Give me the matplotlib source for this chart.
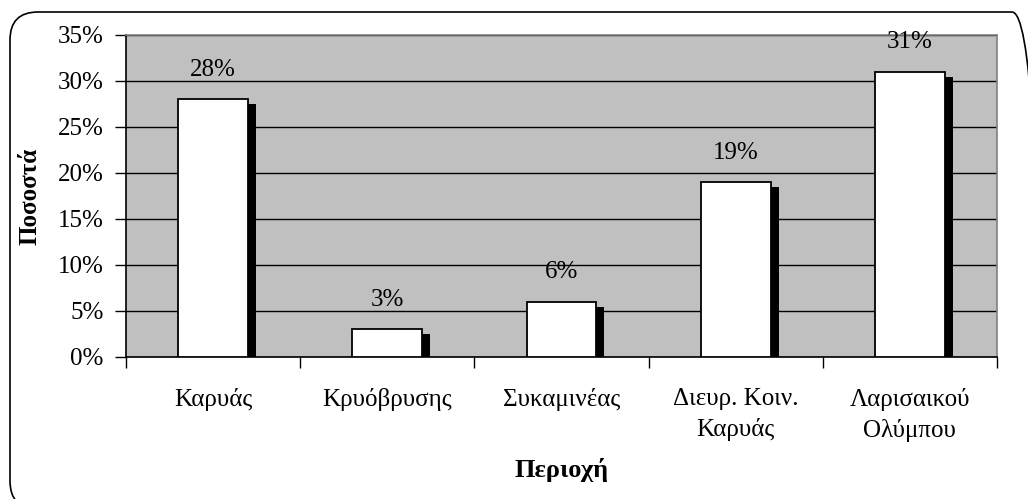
import matplotlib
matplotlib.use("Agg")
import matplotlib.pyplot as plt
from matplotlib.patches import FancyBboxPatch
from matplotlib.transforms import IdentityTransform
from matplotlib.ticker import FuncFormatter, FixedLocator
import numpy as np

# ----------------------------------------------------------------------
# Data
# ----------------------------------------------------------------------

categories = ["Καρυάς", "Κρυόβρυσης", "Συκαμινέας",
              "Διευρ. Κοιν.\nΚαρυάς", "Λαρισαικού\nΟλύμπου"]
values = [28, 3, 6, 19, 31]
yticks = [0, 5, 10, 15, 20, 25, 30, 35]

xlabel = "Περιοχή"
ylabel = "Ποσοστά"

# ----------------------------------------------------------------------
# Plot
# ----------------------------------------------------------------------

plt.rcParams['font.family'] = ['Liberation Serif', 'DejaVu Serif']
fs = 18

fig = plt.figure(figsize=(10.28, 4.99), dpi=100)
ax = fig.add_axes([0.1226, 0.2846, 0.8472, 0.6453])

x = np.arange(len(categories))
width = 0.4

# shadow behind the bars (offset right / down by a few pixels)
ax.bar(x + 0.046, np.array(values) - 0.55, width=width, color='black',
       linewidth=0, zorder=2)
ax.bar(x, values, width=width, color='white', edgecolor='black',
       linewidth=1.3, zorder=3)

for xi, v in zip(x, values):
    ax.text(xi, v + 2.0, f"{v}%", ha='center', va='bottom', fontsize=fs,
            zorder=4)

ax.set_facecolor('#C0C0C0')
ax.set_xlim(-0.5, len(categories) - 0.5)
ax.set_ylim(0, 35)
ax.set_yticks(yticks)
ax.yaxis.set_major_formatter(FuncFormatter(lambda v, p: f"{v:.0f}%"))
ax.yaxis.grid(True, color='black', linewidth=1.0, zorder=1)
ax.set_axisbelow(True)

# category labels between boundary ticks
ax.set_xticks(x)
ax.set_xticklabels(categories, fontsize=fs, linespacing=1.45)
ax.tick_params(axis='x', which='major', length=0, pad=22)
ax.xaxis.set_minor_locator(FixedLocator(np.arange(-0.5, len(categories), 1)))
ax.tick_params(axis='x', which='minor', length=8, width=1, color='black')
ax.tick_params(axis='y', length=8, width=1, labelsize=fs, pad=8)

for side in ['left', 'bottom']:
    ax.spines[side].set_color('black')
    ax.spines[side].set_linewidth(1.2)
for side in ['top', 'right']:
    ax.spines[side].set_color('#808080')
    ax.spines[side].set_linewidth(1.2)

ax.set_ylabel(ylabel, fontsize=fs, fontweight='bold', va='center')
ax.yaxis.set_label_coords(-0.110, 0.5)
ax.set_xlabel(xlabel, fontsize=fs + 1, fontweight='bold', va='center')
ax.xaxis.set_label_coords(0.5, -0.351)

# rounded border around the chart area
border = FancyBboxPatch((10, -10), 1030, 497,
                        boxstyle='round,pad=0,rounding_size=28',
                        transform=IdentityTransform(), facecolor='none',
                        edgecolor='black', linewidth=1.2)
fig.add_artist(border)

fig.savefig("out.png", dpi=100)
